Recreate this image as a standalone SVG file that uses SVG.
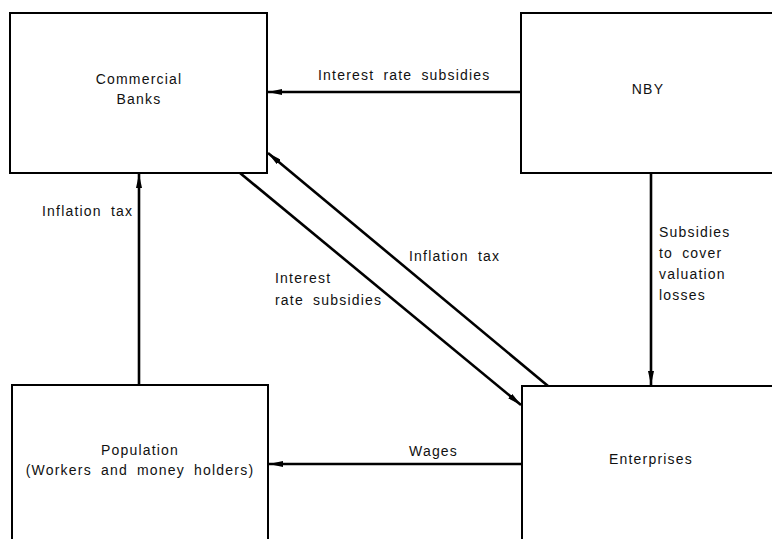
<svg xmlns="http://www.w3.org/2000/svg" width="772" height="539" viewBox="0 0 772 539">
<defs>
<marker id="ah" viewBox="0 0 14 6" refX="14" refY="3" markerWidth="14" markerHeight="6" markerUnits="userSpaceOnUse" orient="auto">
<path d="M0,0 L14,3 L0,6 Z" fill="#000"/>
</marker>
<style>
.box{fill:#fff;stroke:#000;stroke-width:2}
.lbl{font-family:"Liberation Sans",Arial,sans-serif;font-size:14px;letter-spacing:1.2px;word-spacing:4px;fill:#111}
.c{text-anchor:middle}
.con{stroke:#000;stroke-width:2.6;fill:none;marker-end:url(#ah)}
</style>
</defs>
<rect width="772" height="539" fill="#fff"/>
<g id="commercial-banks">
<rect class="box" x="10" y="13" width="257" height="160"/>
<text class="lbl c" x="139" y="84">Commercial</text>
<text class="lbl c" x="139" y="104">Banks</text>
</g>
<g id="nby">
<rect class="box" x="521" y="13" width="260" height="160"/>
<text class="lbl c" x="648" y="94">NBY</text>
</g>
<g id="population">
<rect class="box" x="12" y="385" width="256" height="170"/>
<text class="lbl c" x="140" y="455">Population</text>
<text class="lbl c" x="140" y="475">(Workers and money holders)</text>
</g>
<g id="enterprises">
<rect class="box" x="522" y="386" width="260" height="170"/>
<text class="lbl c" x="651" y="464">Enterprises</text>
</g>
<g id="connectors">
<line class="con" x1="521" y1="92" x2="268" y2="92"/>
<line class="con" x1="139" y1="385" x2="139" y2="174"/>
<line class="con" x1="651" y1="173" x2="651" y2="385"/>
<line class="con" x1="522" y1="464" x2="269" y2="464"/>
<line class="con" x1="240" y1="173" x2="521" y2="405"/>
<line class="con" x1="548" y1="386" x2="268" y2="153"/>
</g>
<g id="labels">
<text class="lbl" x="318" y="80">Interest rate subsidies</text>
<text class="lbl" x="42" y="216">Inflation tax</text>
<text class="lbl" x="275" y="283">Interest</text>
<text class="lbl" x="275" y="305">rate subsidies</text>
<text class="lbl" x="409" y="261">Inflation tax</text>
<text class="lbl" x="659" y="237">Subsidies</text>
<text class="lbl" x="659" y="258">to cover</text>
<text class="lbl" x="659" y="279">valuation</text>
<text class="lbl" x="659" y="300">losses</text>
<text class="lbl" x="409" y="456">Wages</text>
</g>
</svg>
